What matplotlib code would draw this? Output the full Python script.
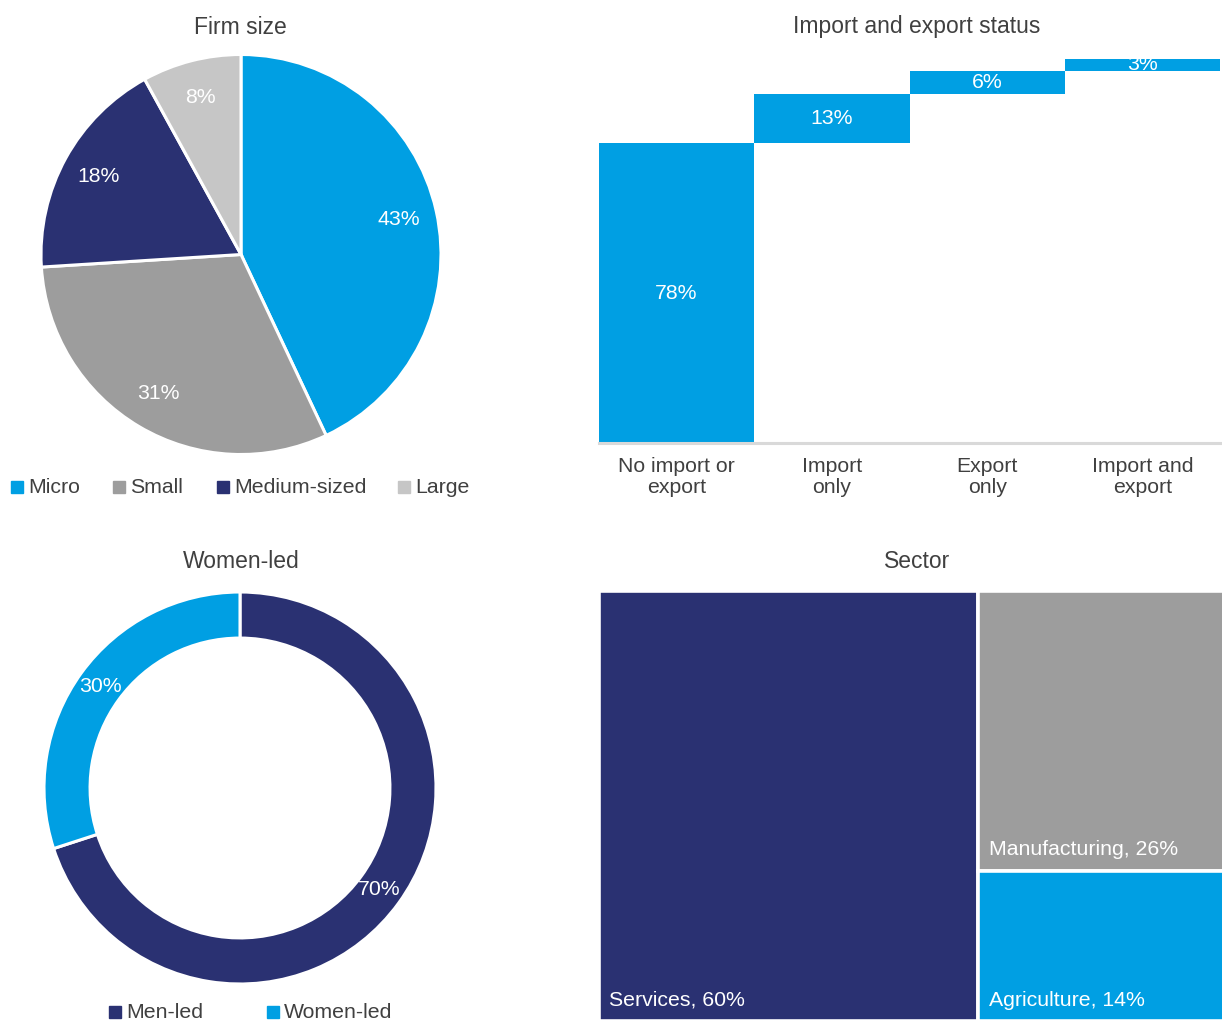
import matplotlib
matplotlib.use("Agg")
import matplotlib.pyplot as plt
from matplotlib.patches import Rectangle
import numpy as np

plt.rcParams["font.family"] = ["Liberation Sans", "DejaVu Sans"]

# Firm size
size_labels = ["Micro", "Small", "Medium-sized", "Large"]
size_shares = [43, 31, 18, 8]

# Import and export status
trade_labels = ["No import or\nexport", "Import\nonly", "Export\nonly", "Import and\nexport"]
trade_shares = [78, 13, 6, 3]

# Women-led
lead_labels = ["Men-led", "Women-led"]
lead_shares = [70, 30]

# Sector
sector_labels = ["Services", "Manufacturing", "Agriculture"]
sector_shares = [60, 26, 14]

BLUE = "#009FE3"
NAVY = "#2A3172"
GREY = "#9D9D9D"
LIGHT = "#C6C6C6"
TEXT = "#404040"
TITLE_FS = 16.5
LABEL_FS = 15.3

W, H = 1222, 1021
fig = plt.figure(figsize=(W / 100, H / 100), dpi=100)


def px_axes(left, top, width, height):
    return fig.add_axes([left / W, 1 - (top + height) / H, width / W, height / H])


def px_text(x, y, s, **kw):
    fig.text(x / W, 1 - y / H, s, color=TEXT, va="center", **kw)


def legend_item(x, y, label, color, size=12):
    fig.patches.append(Rectangle((x / W, 1 - (y + size / 2) / H), size / W, size / H,
                                 transform=fig.transFigure, color=color))
    px_text(x + size + 5, y, label, fontsize=LABEL_FS, ha="left")


# --- firm size pie ---
ax = px_axes(41, 54, 400, 401)
wedges, _, autotexts = ax.pie(size_shares, colors=[BLUE, GREY, NAVY, LIGHT],
                              startangle=90, counterclock=False,
                              autopct="%d%%", pctdistance=0.81,
                              wedgeprops=dict(edgecolor="white", linewidth=2.2))
for t in autotexts:
    t.set_color("white")
    t.set_fontsize(LABEL_FS)
ax.set_xlim(-1, 1)
ax.set_ylim(-1, 1)
ax.set_aspect("equal")
px_text(240, 27, "Firm size", fontsize=TITLE_FS, ha="center")
for x, lab, col in zip([11, 113, 217, 398], size_labels, [BLUE, GREY, NAVY, LIGHT]):
    legend_item(x, 487, lab, col)

# --- import / export waterfall ---
ax = px_axes(599, 59, 621, 384)
bottoms = np.concatenate([[0], np.cumsum(trade_shares)[:-1]])
xs = np.arange(len(trade_shares))
ax.bar(xs, trade_shares, bottom=bottoms, width=1.0, color=BLUE, linewidth=0)
for x, b, v in zip(xs, bottoms, trade_shares):
    ax.text(x, b + v / 2, f"{v}%", ha="center", va="center", color="white", fontsize=LABEL_FS)
ax.set_xlim(-0.5, 3.5)
ax.set_ylim(0, 100)
ax.axhline(0, color="#D9D9D9", linewidth=2.2, clip_on=False)
for s in ax.spines.values():
    s.set_visible(False)
ax.set_yticks([])
ax.set_xticks(xs)
ax.set_xticklabels(trade_labels, fontsize=LABEL_FS, color=TEXT, linespacing=1.13)
ax.tick_params(axis="x", length=0, pad=10)
px_text(917, 27, "Import and export status", fontsize=TITLE_FS, ha="center")

# --- women-led donut ---
ax = px_axes(44, 592, 392, 392)
wedges, _, autotexts = ax.pie(lead_shares, colors=[NAVY, BLUE],
                              startangle=90, counterclock=False,
                              autopct="%d%%", pctdistance=0.88,
                              wedgeprops=dict(width=0.235, edgecolor="white", linewidth=2.2))
for t in autotexts:
    t.set_color("white")
    t.set_fontsize(LABEL_FS)
ax.set_xlim(-1, 1)
ax.set_ylim(-1, 1)
ax.set_aspect("equal")
px_text(241, 561, "Women-led", fontsize=TITLE_FS, ha="center")
legend_item(109, 1012, lead_labels[0], NAVY)
legend_item(267, 1012, lead_labels[1], BLUE)

# --- sector treemap (slice: services, then dice the rest) ---
ax = px_axes(599, 591, 632, 430)
ax.set_xlim(0, 100)
ax.set_ylim(0, 100)
ax.axis("off")
rest = sum(sector_shares[1:])
agri_h = sector_shares[2] / rest * 100
rects = [
    (0, 0, sector_shares[0], 100, NAVY),
    (sector_shares[0], agri_h, 100 - sector_shares[0], 100 - agri_h, GREY),
    (sector_shares[0], 0, 100 - sector_shares[0], agri_h, BLUE),
]
for (x0, y0, w, h, col), lab, v in zip(rects, sector_labels, sector_shares):
    ax.add_patch(Rectangle((x0, y0), w, h, facecolor=col, edgecolor="white", linewidth=2.6))
    ax.annotate(f"{lab}, {v}%", xy=(x0, y0), xytext=(7.5, 15), textcoords="offset points",
                ha="left", va="center", color="white", fontsize=LABEL_FS)
px_text(917, 561, "Sector", fontsize=TITLE_FS, ha="center")

fig.savefig("out.png", dpi=100, facecolor="white")
